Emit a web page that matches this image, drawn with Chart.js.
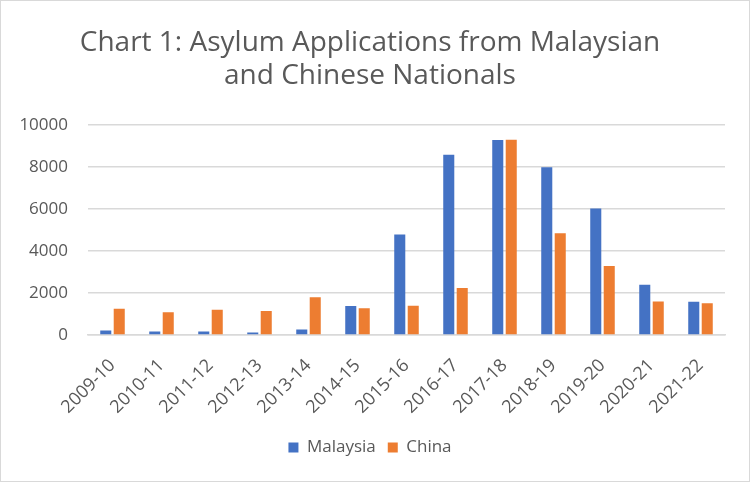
<!DOCTYPE html>
<html>
<head>
<meta charset="utf-8">
<script src="https://cdn.jsdelivr.net/npm/chart.js@4"></script>
<style>
    html, body { margin: 0; padding: 0; background: #fff; }
    #wrap { width: 748px; height: 480px; border: 1px solid #d9d9d9; }
</style>
</head>
<body>
<div id="wrap"><canvas id="chart" width="748" height="480"></canvas></div>
<script>
var years = ["2009-10", "2010-11", "2011-12", "2012-13", "2013-14", "2014-15", "2015-16",
    "2016-17", "2017-18", "2018-19", "2019-20", "2020-21", "2021-22"];
var malaysia = [220, 170, 170, 120, 260, 1380, 4790, 8590, 9300, 8000, 6030, 2390, 1590];
var china = [1250, 1090, 1200, 1140, 1800, 1270, 1400, 2240, 9310, 4850, 3290, 1600, 1510];
var yTicks = [0, 2000, 4000, 6000, 8000, 10000];

var grey = "#595959";

new Chart(document.getElementById("chart"), {
    type: "bar",
    data: {
        labels: years,
        datasets: [{
            label: "Malaysia",
            data: malaysia,
            backgroundColor: "#4472c4"
        }, {
            label: "China",
            data: china,
            backgroundColor: "#ed7d31"
        }]
    },
    options: {
        responsive: false,
        animation: false,
        devicePixelRatio: 1,
        categoryPercentage: 0.55,
        barPercentage: 0.82,
        layout: { padding: { left: 14, right: 24, top: 14, bottom: 15 } },
        plugins: {
            title: {
                display: true,
                text: ["Chart 1: Asylum Applications from Malaysian", "and Chinese Nationals"],
                color: grey,
                font: { family: "Open Sans", size: 28, weight: "normal" },
                lineHeight: 1.35,
                padding: { top: 11, bottom: 32 }
            },
            legend: {
                position: "bottom",
                labels: {
                    color: grey,
                    font: { family: "Open Sans", size: 17 },
                    boxWidth: 10,
                    boxHeight: 10,
                    padding: 12
                }
            },
            tooltip: { enabled: false }
        },
        scales: {
            x: {
                grid: { display: false },
                border: { color: "#d9d9d9", width: 1.5 },
                afterFit: function(axis) { axis.height = 92; },
                ticks: {
                    color: grey,
                    font: { family: "Open Sans", size: 18 },
                    minRotation: 45,
                    maxRotation: 45,
                    padding: 12
                }
            },
            y: {
                min: 0,
                max: 10000,
                afterBuildTicks: function(axis) {
                    axis.ticks = yTicks.map(function(v) { return { value: v }; });
                },
                afterFit: function(axis) { axis.width = 73; },
                grid: { color: "#d9d9d9", lineWidth: 1.5, drawTicks: false },
                border: { display: false },
                ticks: {
                    color: grey,
                    font: { family: "Open Sans", size: 17 },
                    padding: 20,
                    callback: function(v) { return String(v); }
                }
            }
        }
    }
});
</script>
</body>
</html>
